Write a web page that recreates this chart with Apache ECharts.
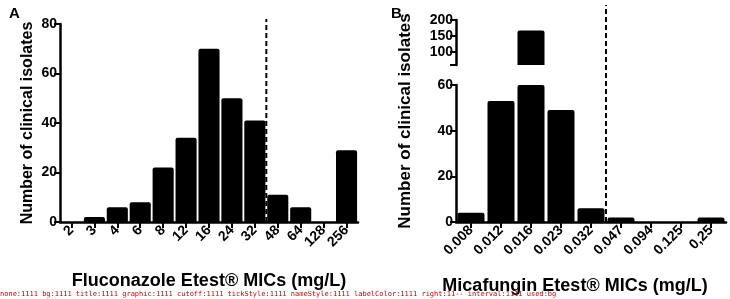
<!DOCTYPE html>
<html>
<head>
<meta charset="utf-8">
<script src="https://cdn.jsdelivr.net/npm/echarts@6/dist/echarts.min.js"></script>
<style>
  html, body { margin: 0; padding: 0; background: #fff; }
  #chart { width: 730px; height: 299px; }
  .probe { width: 730px; height: 299px; position: absolute; left: 0; top: 1000px; }
  #dbg { position: absolute; left: 0; top: 290px; width: 730px; font: 7px monospace; color: #c00; white-space: nowrap; }
</style>
</head>
<body>
<div id="chart"></div>
<div id="dbg"></div>
<script>
// Panel A: fluconazole MIC distribution
var flucMics = ['2', '3', '4', '6', '8', '12', '16', '24', '32', '48', '64', '128', '256'];
var flucCounts = [0, 2, 6, 8, 22, 34, 70, 50, 41, 11, 6, 0, 29];
var flucBreakAfter = '32';
var flucYMax = 80;
var flucCutoffSpan = [0, 82];

// Panel B: micafungin MIC distribution (broken y axis)
var micaMics = ['0.008', '0.012', '0.016', '0.023', '0.032', '0.047', '0.094', '0.125', '0,25'];
var micaCounts = [4, 53, 167, 49, 6, 2, 0, 0, 2];
var micaBreakAfter = '0.032';
var micaLowerMax = 60;
var micaUpperMax = 200;
var micaUpperTicks = [100, 150, 200];
var micaCutoffSpan = [0, 95];

var FONT = '"Liberation Sans", Arial, Helvetica, sans-serif';

function build(f) {
  function axisLine() {
    return { show: true, onZero: false, lineStyle: { color: '#000', width: 2.5 } };
  }
  function tick(extra) {
    var t = { show: true, length: 6 };
    if (f.tickStyle) t.lineStyle = { color: '#000', width: 2 };
    return Object.assign(t, extra || {});
  }
  function label(extra) {
    var l = { fontFamily: FONT, fontWeight: 'bold', fontSize: 14 };
    if (f.labelColor) l.color = '#000';
    return Object.assign(l, extra || {});
  }
  function nameStyle(extra) {
    if (!f.nameStyle) return undefined;
    return Object.assign({ fontFamily: FONT, fontWeight: 'bold', fontSize: 18, color: '#000' }, extra || {});
  }
  function catAxis(g, data, show, name, extra) {
    return Object.assign({
      type: 'category', gridIndex: g, data: data, show: show,
      name: name, nameLocation: 'middle', nameGap: 50, nameTextStyle: nameStyle(),
      axisLine: axisLine(),
      axisTick: tick({ alignWithLabel: true }),
      axisLabel: label({ rotate: 45, margin: 6, interval: 0 })
    }, extra || {});
  }
  function valAxis(g, min, max, extra) {
    return Object.assign({
      type: 'value', gridIndex: g, min: min, max: max,
      splitLine: { show: false },
      axisLine: axisLine(),
      axisTick: tick(),
      axisLabel: label({ margin: 3 })
    }, extra || {});
  }
  function slotAxis(g, n) {
    return { type: 'value', gridIndex: g, min: -0.5, max: n - 0.5, show: false };
  }
  function cutoff(xIdx, yIdx, cats, after, span) {
    var x = cats.indexOf(after) + 0.5;
    return {
      type: 'line', xAxisIndex: xIdx, yAxisIndex: yIdx,
      data: [[x, span[0]], [x, span[1]]],
      clip: false, silent: true, symbol: 'none', z: 3,
      lineStyle: { color: '#000', width: 2, type: [5, 3] }
    };
  }
  var barStyle = { color: '#000', borderRadius: [2, 2, 0, 0] };
  var yInt = f.interval ? { interval: 20 } : {};

  var grids = [{ left: 60, right: 372, top: 24, bottom: 77 }];
  var xs = [catAxis(0, flucMics, true, 'Fluconazole Etest\u00ae MICs (mg/L)')];
  var ys = [valAxis(0, 0, flucYMax, Object.assign({
    name: 'Number of clinical isolates', nameLocation: 'middle', nameGap: 24,
    nameTextStyle: f.nameStyle ? { fontFamily: FONT, fontWeight: 'bold', fontSize: 16, color: '#000' } : undefined
  }, yInt))];
  var series = [{ type: 'bar', xAxisIndex: 0, yAxisIndex: 0, data: flucCounts, barCategoryGap: '8%', itemStyle: barStyle }];

  if (f.right) {
    grids.push({ left: 456, right: 4, top: 85, bottom: 77 }, { left: 456, right: 4, top: 20, height: 45 });
    xs.push(catAxis(1, micaMics, true, 'Micafungin Etest\u00ae MICs (mg/L)', {
      nameGap: 55, nameTextStyle: nameStyle({ padding: [0, 32, 0, 0] })
    }));
    xs.push(catAxis(2, micaMics, false));
    ys.push(valAxis(1, 0, micaLowerMax, yInt));
    ys.push(valAxis(2, micaLowerMax, micaUpperMax, {
      axisLabel: label({ margin: 3, customValues: micaUpperTicks }),
      axisTick: tick({ customValues: [micaLowerMax].concat(micaUpperTicks) })
    }));
    series.push(
      { type: 'bar', xAxisIndex: 1, yAxisIndex: 1, data: micaCounts, barCategoryGap: '10%', itemStyle: barStyle, clip: true },
      { type: 'bar', xAxisIndex: 2, yAxisIndex: 2,
        data: micaCounts.map(function (v) { return v > micaLowerMax ? v : '-'; }),
        barCategoryGap: '10%', itemStyle: barStyle, clip: true }
    );
  }
  if (f.cutoff) {
    xs.push(slotAxis(0, flucMics.length));
    series.push(cutoff(xs.length - 1, 0, flucMics, flucBreakAfter, flucCutoffSpan));
    if (f.right) {
      xs.push(slotAxis(1, micaMics.length));
      series.push(cutoff(xs.length - 1, 1, micaMics, micaBreakAfter, micaCutoffSpan));
    }
  }
  var o = { animation: false, grid: grids, xAxis: xs, yAxis: ys, series: series };
  if (f.bg) o.backgroundColor = '#fff';
  if (f.title) o.title = [
    { text: 'A', left: 4, top: 1, textStyle: { fontFamily: FONT, fontWeight: 'bold', fontSize: 15, color: '#000' } },
    { text: 'B', left: 386, top: 1, textStyle: { fontFamily: FONT, fontWeight: 'bold', fontSize: 15, color: '#000' } }
  ];
  if (f.graphic) o.graphic = [{
    type: 'text', x: 405, y: 121, rotation: Math.PI / 2,
    style: { text: 'Number of clinical isolates', font: 'bold 17px ' + FONT, fill: '#000', align: 'center', verticalAlign: 'middle' }
  }];
  return o;
}

var FULL = { bg: 1, title: 1, graphic: 1, cutoff: 1, tickStyle: 1, nameStyle: 1, labelColor: 1, right: 1, interval: 1 };
var drops = ['none', 'bg', 'title', 'graphic', 'cutoff', 'tickStyle', 'nameStyle', 'labelColor', 'right', 'interval'];

function dark(ctx, x, y) {
  var d = ctx.getImageData(x, y, 1, 1).data;
  return d[3] > 128 && d[0] < 110 ? 1 : 0;
}

var out = [];
var good = null;
drops.forEach(function (k) {
  try {
    var f = Object.assign({}, FULL);
    if (k !== 'none') f[k] = 0;
    var d = document.createElement('div');
    d.className = 'probe';
    document.body.appendChild(d);
    var c = echarts.init(d);
    c.setOption(build(f));
    c.getZr().refreshImmediately();
    var ctx = d.querySelector('canvas').getContext('2d');
    var r = '' + dark(ctx, 61, 100) + dark(ctx, 66, 222) + (f.right ? '' + dark(ctx, 457, 150) + dark(ctx, 665, 222) : '--');
    out.push(k + ':' + r);
    if (good === null && k !== 'none' && r.charAt(0) === '1' && r.charAt(1) === '1') good = k;
  } catch (e) { out.push(k + ':ERR ' + e.message); }
});

var chosen = Object.assign({}, FULL);
if (good) chosen[good] = 0;
var chart = echarts.init(document.getElementById('chart'));
chart.setOption(build(chosen));
document.getElementById('dbg').textContent = out.join(' ') + ' used:' + good;
</script>
</body>
</html>
